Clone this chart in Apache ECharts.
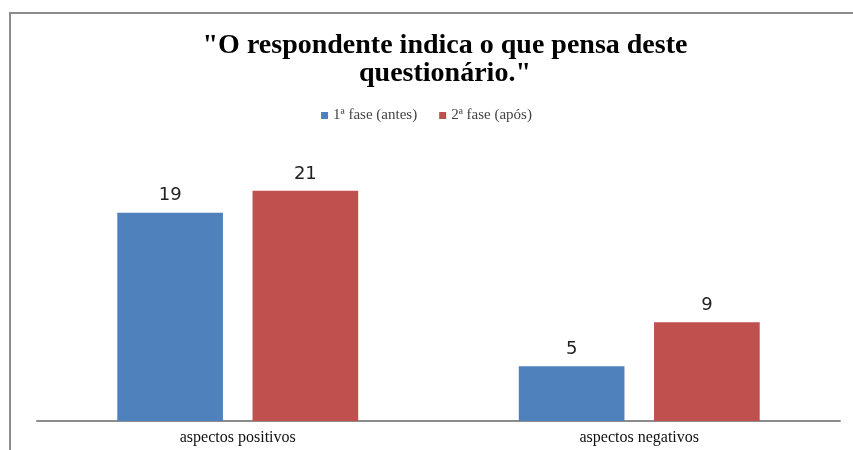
<!DOCTYPE html>
<html>
<head>
<meta charset="utf-8">
<script src="https://cdn.jsdelivr.net/npm/echarts@6/dist/echarts.min.js"></script>
<style>
  html, body { margin: 0; padding: 0; background: #fff; }
  #chart { width: 853px; height: 450px; }
</style>
</head>
<body>
<div id="chart"></div>
<script>
// Survey answers: what the respondent thinks of the questionnaire
const categories = ['aspectos positivos', 'aspectos negativos'];
const seriesNames = ['1ª fase (antes)', '2ª fase (após)'];
const faseAntes = [19, 5];
const faseApos = [21, 9];
const colors = ['#4F81BD', '#C0504D'];

const chart = echarts.init(document.getElementById('chart'), null, { renderer: 'canvas' });

const valueLabel = {
  show: true,
  position: 'top',
  distance: 8,
  fontFamily: 'DejaVu Sans',
  fontSize: 18,
  color: '#222'
};

chart.setOption({
  animation: false,
  backgroundColor: '#fff',
  graphic: [{
    type: 'rect',
    shape: { x: 10, y: 13, width: 900, height: 500 },
    style: { fill: 'none', stroke: '#8c8c8c', lineWidth: 2 },
    silent: true
  }],
  title: {
    text: '"O respondente indica o que pensa deste\nquestionário."',
    left: 440,
    textAlign: 'center',
    top: 27,
    textStyle: {
      fontFamily: 'Liberation Serif',
      fontWeight: 'bold',
      fontSize: 28,
      lineHeight: 28,
      color: '#000'
    }
  },
  legend: {
    data: seriesNames,
    top: 103,
    left: 'center',
    itemWidth: 7,
    itemHeight: 7,
    itemGap: 22,
    icon: 'rect',
    textStyle: {
      fontFamily: 'Liberation Serif',
      fontSize: 15,
      color: '#444'
    }
  },
  grid: {
    left: 37,
    right: 13,
    top: 147,
    bottom: 29,
    containLabel: false
  },
  xAxis: {
    type: 'category',
    data: categories,
    axisLine: { lineStyle: { color: '#8c8c8c', width: 2 } },
    axisTick: { show: false },
    axisLabel: {
      fontFamily: 'Liberation Serif',
      fontSize: 16,
      color: '#111',
      margin: 9
    }
  },
  yAxis: {
    type: 'value',
    min: 0,
    max: 25,
    show: false,
    splitLine: { show: false }
  },
  series: [
    {
      name: seriesNames[0],
      type: 'bar',
      data: faseAntes,
      itemStyle: { color: colors[0] },
      barGap: '28%',
      barCategoryGap: '40%',
      label: valueLabel
    },
    {
      name: seriesNames[1],
      type: 'bar',
      data: faseApos,
      itemStyle: { color: colors[1] },
      barGap: '28%',
      barCategoryGap: '40%',
      label: valueLabel
    }
  ]
});
</script>
</body>
</html>
